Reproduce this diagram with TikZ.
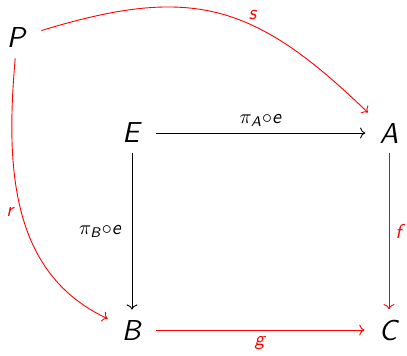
\documentclass[tikz,border=0pt]{standalone}
\usetikzlibrary{arrows.meta}
% sans italic letters
\newcommand{\sv}[1]{\textsf{\slshape #1}}
\tikzset{
  % objects of the square
  obj/.style={font=\Large, inner xsep=7pt, inner ysep=5pt},
  % morphisms
  map/.style={->, line width=0.45pt},
  redmap/.style={map, red},
  % morphism labels
  lab/.style={inner sep=3pt},
}

\begin{document}
\begin{tikzpicture}[x=0.5pt, y=-0.5pt]
  \useasboundingbox (0,0) rectangle (407,355);
  % objects
  \node[obj] (P) at (17,38) {\sv{P}};
  \node[obj] (E) at (132,133) {\sv{E}};
  \node[obj] (A) at (389,133) {\sv{A}};
  \node[obj] (B) at (132,330) {\sv{B}};
  \node[obj] (C) at (389,330) {\sv{C}};

  % square
  \draw[map] (E) -- node[lab, above] {$\pi_{\mbox{\scriptsize\sv{A}}}{\circ}$\sv{e}} (A);
  \draw[map] (E) -- node[lab, left, inner xsep=5pt] {$\pi_{\mbox{\scriptsize\sv{B}}}{\circ}$\sv{e}} (B);
  \draw[redmap] (A) -- node[lab, right, text=red] {\sv{f}} (C);
  \draw[redmap] (B) -- node[lab, below, text=red] {\sv{g}} (C);

  % cone from P
  \draw[redmap] (P) to[out=17, in=136, looseness=1.2] node[lab, above, pos=0.62, text=red] {\sv{s}} (A);
  \draw[redmap] (P) to[out=-95, in=155] node[lab, left, pos=0.5, text=red] {\sv{r}} (B);
\end{tikzpicture}
\end{document}
